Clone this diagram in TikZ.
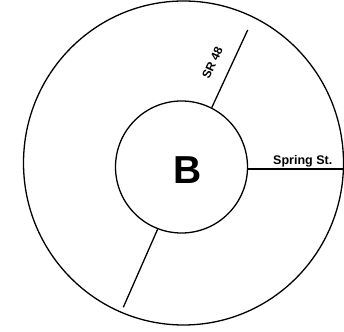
\documentclass[tikz,border=0pt]{standalone}
\usepackage{fontspec}
\setsansfont{Liberation Sans}
\usetikzlibrary{positioning,calc}
\definecolor{ink}{HTML}{000000}
\tikzset{
  road/.style={draw=ink,line width=1.3pt},
  roadlabel/.style={text=ink,font=\sffamily\bfseries\fontsize{12.5}{13}\selectfont,inner sep=1pt}
}

\begin{document}
\begin{tikzpicture}[x=1pt,y=1pt,font=\sffamily]
  \useasboundingbox (0,0) rectangle (344,331);

  % outer ring and centre
  \draw[road] (183.5,168) ellipse[x radius=160,y radius=162];
  \node[draw=ink,line width=1.3pt,circle,minimum size=132pt,inner sep=0pt] (core) at (181.5,164) {};
  \node[text=ink,font=\sffamily\bfseries\fontsize{39}{39}\selectfont] (bname) at (187.5,161) {B};

  % roads
  \coordinate (srend) at (247.7,301);
  \coordinate (swend) at (123.3,23.7);
  \coordinate (spend) at (343,162);
  \draw[road] (core.63) -- (srend);
  \draw[road] (core.249) -- (swend);
  \draw[road] (core.east |- spend) -- (spend);

  \node[roadlabel,rotate=65,font=\sffamily\bfseries\fontsize{12}{12}\selectfont] (srlab) at (212.5,268) {SR 48};
  \node[roadlabel,anchor=base west] (splab) at (272,166.7) {Spring St.};
\end{tikzpicture}
\end{document}
